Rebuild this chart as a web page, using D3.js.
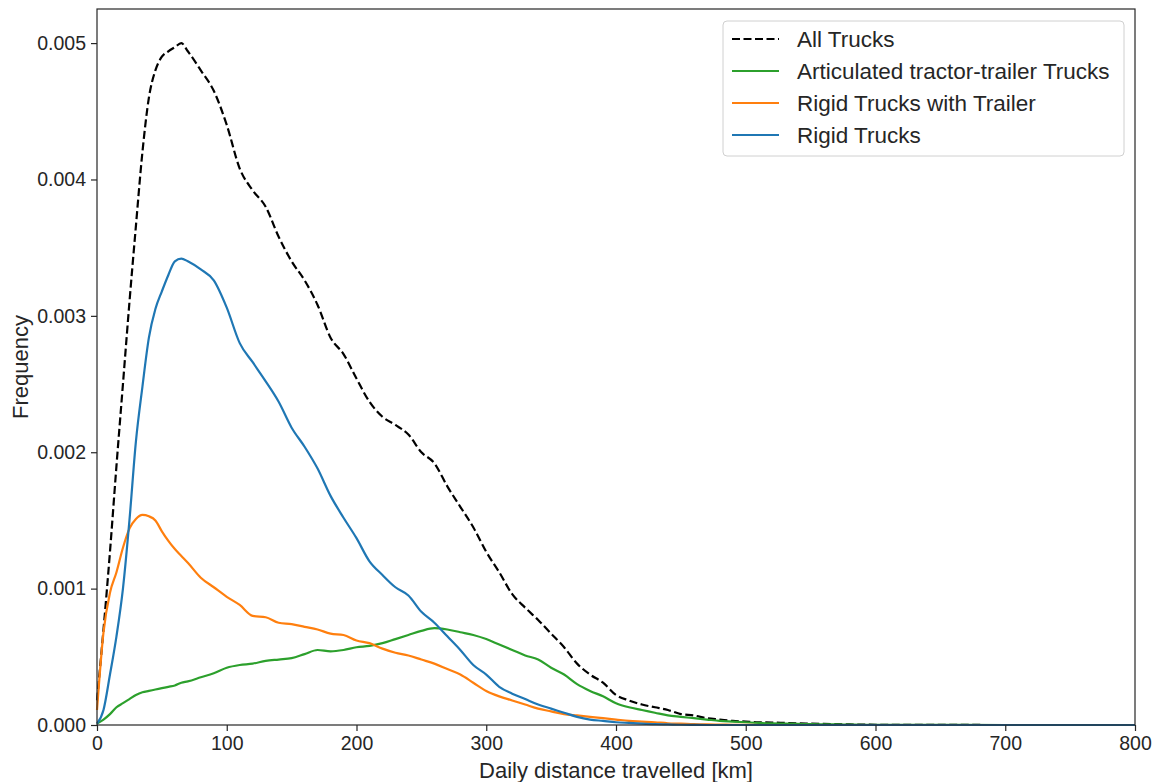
<!DOCTYPE html>
<html>
<head>
<meta charset="utf-8">
<script src="https://cdn.jsdelivr.net/npm/d3@7"></script>
<style>
  body { margin: 0; background: #fff; }
  svg { font-family: "Liberation Sans", Arial, sans-serif; }
</style>
</head>
<body>
<div id="chart"></div>
<script>
var W = 1154, H = 782;
var margin = {top: 9, right: 19, bottom: 57, left: 97};

// distance grid (km)
var distance = [0,5,10,15,20,25,30,35,40,45,50,55,60,65,70,
  80,90,100,110,120,130,140,150,160,170,180,190,200,210,220,230,240,250,
  260,270,280,290,300,310,320,330,340,350,360,370,380,390,400,410,420,430,
  440,450,460,470,480,490,500,510,520,530,540,550,560,570,580,590,600,650,700,750,800];

var allTrucks = [0.00018,0.0007,0.00127,0.0019,0.0025,0.0031,0.00366,0.0042,0.0046,0.0048,0.0049,0.00494,0.00497,0.005,0.00494,
  0.0048,0.00465,0.0044,0.00408,0.00392,0.0038,0.00358,0.0034,0.00326,0.00308,0.00284,0.00272,0.00254,0.00237,0.00226,0.0022,0.00213,0.002,
  0.00192,0.00175,0.0016,0.00145,0.00127,0.00112,0.00096,0.00086,0.00077,0.00067,0.00057,0.00045,0.00037,0.00031,0.00022,0.00018,0.00015,0.00013,
  0.00011,0.00008,0.00007,0.00005,0.00004,0.00003,0.000025,0.00002,0.000018,0.000015,0.000012,0.00001,0.000008,0.000006,0.000004,0.000003,0.000002,0.000001,0,0,0];

var articulated = [0.00001,0.00004,0.00008,0.00013,0.00016,0.00019,0.00022,0.00024,0.00025,0.00026,0.00027,0.00028,0.00029,0.00031,0.00032,
  0.00035,0.00038,0.00042,0.00044,0.00045,0.00047,0.00048,0.00049,0.00052,0.00055,0.00054,0.00055,0.00057,0.00058,0.0006,0.00063,0.00066,0.00069,
  0.00071,0.0007,0.00068,0.00066,0.00063,0.00059,0.00055,0.00051,0.00048,0.00042,0.00037,0.0003,0.00025,0.00021,0.00016,0.00013,0.00011,0.00009,
  0.00007,0.00006,0.00005,0.00004,0.00003,0.000025,0.00002,0.000015,0.000012,0.00001,0.000008,0.000006,0.000005,0.000004,0.000003,0.000002,0.000002,0.000001,0,0,0];

var rigidTrailer = [0.00011,0.00068,0.00097,0.00112,0.0013,0.00144,0.00151,0.00154,0.00153,0.0015,0.00142,0.00135,0.00129,0.00124,0.00119,
  0.00108,0.00101,0.00094,0.00088,0.0008,0.00079,0.00075,0.00074,0.00072,0.0007,0.00067,0.00066,0.00062,0.0006,0.00056,0.00053,0.00051,0.00048,
  0.00045,0.00041,0.00037,0.00031,0.00025,0.00021,0.00018,0.00015,0.00012,0.0001,0.00008,0.00007,0.00006,0.00005,0.00004,0.00003,0.000025,0.00002,
  0.000013,0.00001,0.000006,0.000004,0.000003,0.000002,0.000001,0,0,0,0,0,0,0,0,0,0,0,0,0,0];

var rigid = [0.00001,0.00011,0.00037,0.00065,0.001,0.0015,0.00208,0.00248,0.00284,0.00305,0.00318,0.0033,0.0034,0.00342,0.0034,
  0.00334,0.00326,0.00306,0.0028,0.00266,0.00252,0.00237,0.00218,0.00204,0.00188,0.00168,0.00152,0.00137,0.0012,0.0011,0.00101,0.00095,0.00083,
  0.00075,0.00065,0.00055,0.00044,0.00037,0.00028,0.00023,0.00019,0.00015,0.00012,0.00009,0.00006,0.00004,0.00003,0.00002,0.000015,0.00001,0.000006,
  0.000004,0.000002,0.000001,0,0,0,0,0,0,0,0,0,0,0,0,0,0,0,0,0,0];

var seriesNames = ["All Trucks", "Articulated tractor-trailer Trucks", "Rigid Trucks with Trailer", "Rigid Trucks"];
var seriesColors = ["#000000", "#2ca02c", "#ff7f0e", "#1f77b4"];
var seriesDash = ["8,3.5", null, null, null];
var seriesValues = [allTrucks, articulated, rigidTrailer, rigid];

var xTicks = [0,100,200,300,400,500,600,700,800];
var yTicks = [0,0.001,0.002,0.003,0.004,0.005];

var iw = W - margin.left - margin.right,
    ih = H - margin.top - margin.bottom;

var svg = d3.select("#chart").append("svg")
  .attr("width", W)
  .attr("height", H);

var g = svg.append("g")
  .attr("transform", "translate(" + margin.left + "," + margin.top + ")");

var x = d3.scaleLinear().domain([0, 800]).range([0, iw]);
var y = d3.scaleLinear().domain([0, 0.00525]).range([ih, 0]);

var line = d3.line()
  .x(function(d){ return x(d[0]); })
  .y(function(d){ return y(d[1]); })
  .curve(d3.curveMonotoneX);

var plot = g.append("g");
seriesValues.forEach(function(vals, i){
  var pts = distance.map(function(dd, j){ return [dd, vals[j]]; });
  plot.append("path")
    .datum(pts)
    .attr("fill", "none")
    .attr("stroke", seriesColors[i])
    .attr("stroke-width", 2.2)
    .attr("stroke-dasharray", seriesDash[i])
    .attr("d", line);
});

// axes
var xAxis = g.append("g")
  .attr("transform", "translate(0," + ih + ")")
  .call(d3.axisBottom(x).tickValues(xTicks).tickSize(6).tickPadding(5).tickFormat(d3.format("d")));
var yAxis = g.append("g")
  .call(d3.axisLeft(y).tickValues(yTicks).tickSize(6).tickPadding(5).tickFormat(d3.format(".3f")));

[xAxis, yAxis].forEach(function(a){
  a.select(".domain").remove();
  a.selectAll("line").attr("stroke", "#262626").attr("stroke-width", 1.2);
  a.selectAll("text").attr("fill", "#262626").style("font-size", "19.5px")
    .style("font-family", "'Liberation Sans', Arial, sans-serif");
});

// frame
g.append("rect")
  .attr("width", iw)
  .attr("height", ih)
  .attr("fill", "none")
  .attr("stroke", "#262626")
  .attr("stroke-width", 1.2);

// axis labels
svg.append("text")
  .attr("x", margin.left + iw / 2)
  .attr("y", 778)
  .attr("text-anchor", "middle")
  .attr("fill", "#262626")
  .style("font-size", "22px")
  .text("Daily distance travelled [km]");

svg.append("text")
  .attr("transform", "translate(28," + (margin.top + ih / 2) + ") rotate(-90)")
  .attr("text-anchor", "middle")
  .attr("fill", "#262626")
  .style("font-size", "22px")
  .text("Frequency");

// legend
var legend = svg.append("g")
  .attr("transform", "translate(723,21)");
legend.append("rect")
  .attr("width", 401)
  .attr("height", 135)
  .attr("rx", 4)
  .attr("fill", "#fff")
  .attr("fill-opacity", 0.8)
  .attr("stroke", "#d0d0d0")
  .attr("stroke-width", 1);

var items = legend.selectAll("g.item")
  .data(seriesNames)
  .enter().append("g")
  .attr("class", "item")
  .attr("transform", function(d, i){ return "translate(0," + (18 + i * 32) + ")"; });
items.append("line")
  .attr("x1", 9).attr("x2", 56)
  .attr("stroke", function(d, i){ return seriesColors[i]; })
  .attr("stroke-width", 2.2)
  .attr("stroke-dasharray", function(d, i){ return seriesDash[i]; });
items.append("text")
  .attr("x", 74)
  .attr("dy", "0.35em")
  .attr("fill", "#262626")
  .style("font-size", "22.5px")
  .text(function(d){ return d; });
</script>
</body>
</html>
